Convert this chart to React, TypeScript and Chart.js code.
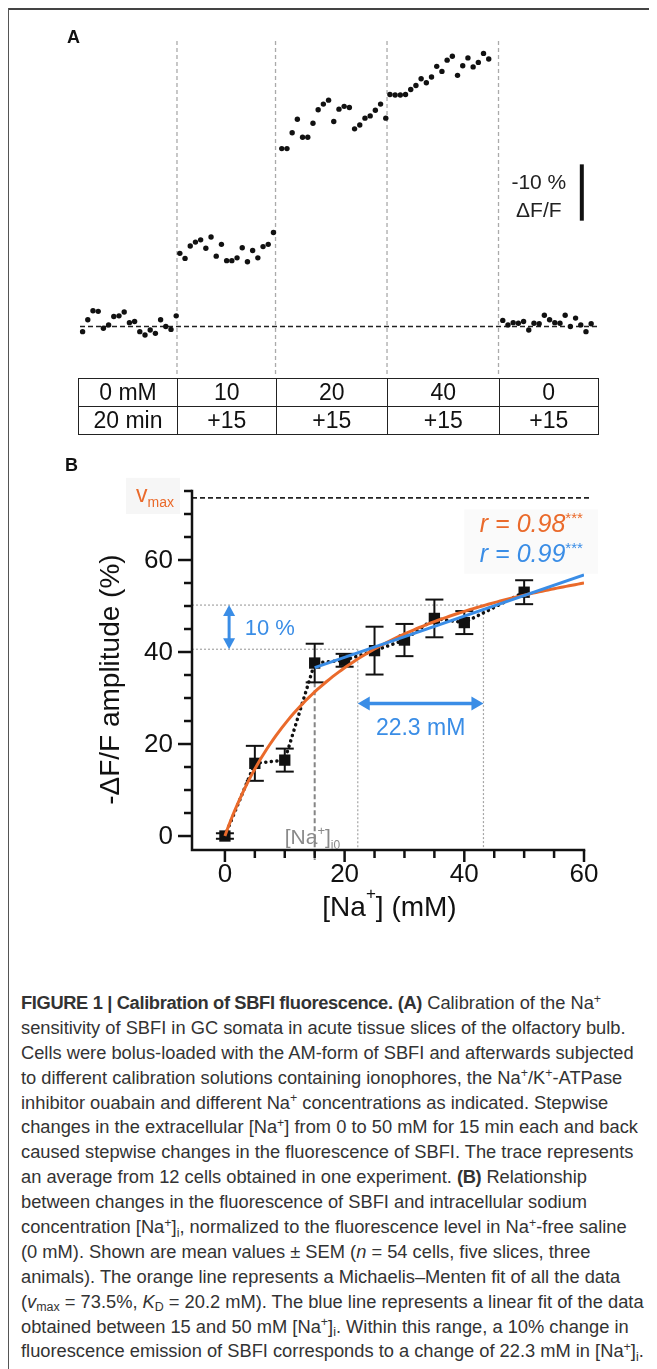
import React, { useEffect, useRef } from "react";
import { Chart, registerables } from "chart.js";

Chart.register(...registerables);

// ---------------- Panel A : averaged SBFI trace (-ΔF/F, %) ----------------
const traceSeg0mM = [-0.9, 1.2, 2.8, 2.7, -0.3, 0.3, 1.8, 1.9, 2.6, 0.7, 0.9, -0.9, -1.5, -0.6, -1.2, 1.2, 0.0, -0.5, 1.9];
const traceSeg10mM = [13.0, 12.1, 14.3, 15.0, 15.4, 13.9, 15.9, 12.5, 14.6, 11.7, 11.7, 12.2, 14.0, 11.5, 13.5, 12.2, 14.2, 14.6, 16.7];
const traceSeg20mM = [31.6, 31.6, 34.4, 36.8, 33.6, 33.6, 36.1, 38.5, 39.5, 40.2, 36.4, 38.6, 39.1, 38.9, 35.1, 35.8, 37.0, 37.4, 38.4, 39.5, 37.0];
const traceSeg40mM = [41.2, 41.1, 41.1, 41.2, 42.1, 42.8, 44.0, 43.3, 44.3, 46.2, 45.3, 47.3, 48.0, 44.6, 46.3, 47.7, 46.1, 46.9, 48.5, 47.5];
const traceSegWash = [1.1, 0.3, 0.7, 0.6, 0.9, -0.6, 0.6, 0.5, 2.0, 1.2, 0.7, 0.6, 2.0, 0.0, 1.5, 0.3, -0.9, 0.5];
const traceSegStart = [0.5, 19.2, 38.8, 59.6, 81.3]; // frame number of first sample of each step
const solutionChanges = [18.65, 37.6, 59.04, 80.48]; // frame number of each solution exchange
const traceFrames = 99.42;
const tableConcentrations = ["0 mM", "10", "20", "40", "0"];
const tableDurations = ["20 min", "+15", "+15", "+15", "+15"];
const scaleBarPct = 10;

// ---------------- Panel B : calibration curve ----------------
const naConc = [0, 5, 10, 15, 20, 25, 30, 35, 40, 50];
const ampMean = [0, 15.8, 16.5, 37.6, 38.2, 40.3, 42.6, 47.3, 46.4, 53.0];
const ampSem = [0.6, 3.8, 2.5, 4.2, 1.4, 5.2, 3.5, 4.1, 2.5, 2.6];
const mmVmax = 73.5;
const mmKd = 20.2;
const linRange = [15, 60];
const linSlope = 10 / 22.3;
const linAt15 = 36.6;
const naI0 = 15;
const guideNa = [22.2, 43.2];
const guideAmp = [40.6, 50.2];
const ampTicks = [0, 20, 40, 60];
const naTicks = [0, 20, 40, 60];
const ampAxisMax = 75;
const minorStep = 5;
const rMM = "0.98";
const rLin = "0.99";
const deltaNaLabel = "22.3 mM";
const deltaAmpLabel = "10 %";

const FONT = '"Liberation Sans", Arial, Helvetica, sans-serif';
const ORANGE = "#EA6A2B";
const BLUE = "#3A8DE6";

type Part = { t: string; size: number; dy?: number; italic?: boolean };

function drawRich(ctx: CanvasRenderingContext2D, parts: Part[], x: number, y: number, align: "left" | "center" | "right") {
  ctx.save();
  ctx.textBaseline = "alphabetic";
  ctx.textAlign = "left";
  const widths = parts.map((p) => {
    ctx.font = `${p.italic ? "italic " : ""}${p.size}px ${FONT}`;
    return ctx.measureText(p.t).width;
  });
  const total = widths.reduce((a, b) => a + b, 0);
  let cx = align === "left" ? x : align === "center" ? x - total / 2 : x - total;
  parts.forEach((p, i) => {
    ctx.font = `${p.italic ? "italic " : ""}${p.size}px ${FONT}`;
    ctx.fillText(p.t, cx, y + (p.dy || 0));
    cx += widths[i];
  });
  ctx.restore();
}

function seg(ctx: CanvasRenderingContext2D, x1: number, y1: number, x2: number, y2: number) {
  ctx.beginPath();
  ctx.moveTo(x1, y1);
  ctx.lineTo(x2, y2);
  ctx.stroke();
}

function PanelA() {
  const ref = useRef<HTMLCanvasElement>(null);
  useEffect(() => {
    const segs = [traceSeg0mM, traceSeg10mM, traceSeg20mM, traceSeg40mM, traceSegWash];
    const pts = segs.flatMap((vals, s) => vals.map((v, i) => ({ x: traceSegStart[s] + i, y: v })));
    const decor = {
      id: "decorA",
      beforeDatasetsDraw(chart: any) {
        const { ctx, chartArea: ca, scales } = chart;
        const x = scales.x;
        const y = scales.y;
        ctx.save();
        ctx.strokeStyle = "#aaaaaa";
        ctx.lineWidth = 1.3;
        ctx.setLineDash([4, 3]);
        solutionChanges.forEach((t) => {
          const px = x.getPixelForValue(t);
          seg(ctx, px, ca.top, px, ca.bottom);
        });
        ctx.strokeStyle = "#222";
        ctx.lineWidth = 1.6;
        ctx.setLineDash([5, 3]);
        const y0 = y.getPixelForValue(0);
        seg(ctx, x.getPixelForValue(0), y0, x.getPixelForValue(traceFrames), y0);
        // scale bar
        ctx.setLineDash([]);
        ctx.lineWidth = 4;
        ctx.strokeStyle = "#111";
        const bx = x.getPixelForValue(96.5);
        seg(ctx, bx, y.getPixelForValue(18.8), bx, y.getPixelForValue(18.8 + scaleBarPct));
        ctx.fillStyle = "#222";
        ctx.font = `21px ${FONT}`;
        ctx.textAlign = "center";
        ctx.textBaseline = "middle";
        const ym = y.getPixelForValue(18.8 + scaleBarPct / 2);
        ctx.fillText(`-${scaleBarPct} %`, bx - 43, ym - 9);
        ctx.fillText("ΔF/F", bx - 43, ym + 19);
        ctx.restore();
      },
    };
    const chart = new Chart(ref.current as HTMLCanvasElement, {
      type: "scatter",
      data: {
        datasets: [
          {
            data: pts,
            pointRadius: 2.7,
            pointBackgroundColor: "#111",
            pointBorderWidth: 0,
            clip: false as any,
          } as any,
        ],
      },
      options: {
        animation: false,
        responsive: false,
        events: [],
        layout: { padding: { left: 72, right: 60, top: 33, bottom: 0 } },
        plugins: { legend: { display: false }, tooltip: { enabled: false } },
        scales: {
          x: { type: "linear", display: false, min: 0, max: traceFrames },
          y: { type: "linear", display: false, min: -8.42, max: 50.7 },
        },
      },
      plugins: [decor],
    });
    return () => chart.destroy();
  }, []);
  return <canvas ref={ref} width={649} height={370} style={{ position: "absolute", left: 0, top: 0 }} />;
}

function PanelB() {
  const ref = useRef<HTMLCanvasElement>(null);
  useEffect(() => {
    const means = naConc.map((c, i) => ({ x: c, y: ampMean[i] }));
    const mmCurve: { x: number; y: number }[] = [];
    for (let c = 0; c <= 60; c += 0.5) mmCurve.push({ x: c, y: (mmVmax * c) / (mmKd + c) });
    const linLine = linRange.map((c) => ({ x: c, y: linAt15 + linSlope * (c - 15) }));

    const decor = {
      id: "decorB",
      beforeDatasetsDraw(chart: any) {
        const { ctx, chartArea: ca, scales } = chart;
        const x = scales.x;
        const y = scales.y;
        ctx.save();
        // faint backgrounds of labels
        ctx.fillStyle = "#f6f6f6";
        ctx.fillRect(ca.left - 66, y.getPixelForValue(mmVmax) - 20, 54, 36);
        ctx.fillStyle = "#fafafa";
        ctx.fillRect(x.getPixelForValue(40), y.getPixelForValue(71), ca.right + 14 - x.getPixelForValue(40), y.getPixelForValue(57) - y.getPixelForValue(71));
        // vmax line
        ctx.strokeStyle = "#222";
        ctx.lineWidth = 1.6;
        ctx.setLineDash([5, 3]);
        const yv = y.getPixelForValue(mmVmax);
        seg(ctx, ca.left, yv, ca.right + 8, yv);
        // guides
        ctx.strokeStyle = "#a5a5a5";
        ctx.lineWidth = 1.2;
        ctx.setLineDash([2, 2]);
        for (let i = 0; i < 2; i++) {
          const gx = x.getPixelForValue(guideNa[i]);
          const gy = y.getPixelForValue(guideAmp[i]);
          seg(ctx, ca.left, gy, gx, gy);
          seg(ctx, gx, gy, gx, ca.bottom);
        }
        // [Na+]i0 marker line
        ctx.strokeStyle = "#858585";
        ctx.lineWidth = 2;
        ctx.setLineDash([5, 3]);
        const xi = x.getPixelForValue(naI0);
        seg(ctx, xi, y.getPixelForValue(ampMean[3] - ampSem[3]), xi, ca.bottom + 10);
        // error bars
        ctx.setLineDash([]);
        ctx.strokeStyle = "#111";
        ctx.lineWidth = 2;
        naConc.forEach((c, i) => {
          const px = x.getPixelForValue(c);
          const t = y.getPixelForValue(ampMean[i] + ampSem[i]);
          const b = y.getPixelForValue(ampMean[i] - ampSem[i]);
          seg(ctx, px, t, px, b);
          seg(ctx, px - 9, t, px + 9, t);
          seg(ctx, px - 9, b, px + 9, b);
        });
        ctx.restore();
      },
      afterDraw(chart: any) {
        const { ctx, chartArea: ca, scales } = chart;
        const x = scales.x;
        const y = scales.y;
        ctx.save();
        // axes
        ctx.strokeStyle = "#111";
        ctx.lineWidth = 2.5;
        ctx.lineCap = "square";
        const yTop = y.getPixelForValue(ampAxisMax);
        const xRight = x.getPixelForValue(60);
        ctx.beginPath();
        ctx.moveTo(ca.left, yTop);
        ctx.lineTo(ca.left, ca.bottom);
        ctx.lineTo(xRight, ca.bottom);
        ctx.stroke();
        ctx.lineCap = "butt";
        for (let v = 0; v <= ampAxisMax; v += minorStep) {
          const py = y.getPixelForValue(v);
          const len = ampTicks.includes(v) ? 14 : 8;
          seg(ctx, ca.left - len, py, ca.left, py);
        }
        for (let v = 0; v <= 60; v += minorStep) {
          const px = x.getPixelForValue(v);
          const len = naTicks.includes(v) ? 12 : 8;
          seg(ctx, px, ca.bottom, px, ca.bottom + len);
        }
        ctx.fillStyle = "#111";
        ctx.font = `26px ${FONT}`;
        ctx.textAlign = "right";
        ctx.textBaseline = "middle";
        ampTicks.forEach((v) => ctx.fillText(String(v), ca.left - 19, y.getPixelForValue(v) + 1));
        ctx.textAlign = "center";
        naTicks.forEach((v) => ctx.fillText(String(v), x.getPixelForValue(v), ca.bottom + 25));
        // axis titles
        ctx.save();
        ctx.translate(ca.left - 81, y.getPixelForValue(34));
        ctx.rotate(-Math.PI / 2);
        ctx.font = `28px ${FONT}`;
        ctx.textAlign = "center";
        ctx.textBaseline = "middle";
        ctx.fillText("-ΔF/F amplitude (%)", 0, 0);
        ctx.restore();
        drawRich(
          ctx,
          [
            { t: "[Na", size: 28 },
            { t: "+", size: 17, dy: -17 },
            { t: "] (mM)", size: 28 },
          ],
          x.getPixelForValue(27.5),
          ca.bottom + 66,
          "center"
        );
        // vmax label
        ctx.fillStyle = ORANGE;
        drawRich(ctx, [{ t: "v", size: 23 }, { t: "max", size: 14, dy: 5 }], ca.left - 18, y.getPixelForValue(mmVmax) + 4, "right");
        // r values
        drawRich(ctx, [{ t: `r = ${rMM}`, size: 25, italic: true }, { t: "***", size: 15, dy: -9 }], x.getPixelForValue(59.8), y.getPixelForValue(68) + 9, "right");
        ctx.fillStyle = BLUE;
        drawRich(ctx, [{ t: `r = ${rLin}`, size: 25, italic: true }, { t: "***", size: 15, dy: -9 }], x.getPixelForValue(59.8), y.getPixelForValue(61.5) + 9, "right");
        // 10 % arrow
        ctx.strokeStyle = BLUE;
        ctx.fillStyle = BLUE;
        ctx.lineWidth = 3;
        const ax = x.getPixelForValue(0.7);
        const a1 = y.getPixelForValue(guideAmp[1]);
        const a2 = y.getPixelForValue(guideAmp[0]);
        seg(ctx, ax, a1 + 8, ax, a2 - 8);
        ctx.beginPath();
        ctx.moveTo(ax, a1); ctx.lineTo(ax - 6, a1 + 11); ctx.lineTo(ax + 6, a1 + 11); ctx.closePath(); ctx.fill();
        ctx.beginPath();
        ctx.moveTo(ax, a2); ctx.lineTo(ax - 6, a2 - 11); ctx.lineTo(ax + 6, a2 - 11); ctx.closePath(); ctx.fill();
        ctx.font = `22px ${FONT}`;
        ctx.textAlign = "left";
        ctx.textBaseline = "middle";
        ctx.fillText(deltaAmpLabel, x.getPixelForValue(3.3), y.getPixelForValue((guideAmp[0] + guideAmp[1]) / 2) + 2);
        // 22.3 mM arrow
        ctx.lineWidth = 3.5;
        const hy = y.getPixelForValue(28.8);
        const h1 = x.getPixelForValue(guideNa[0]);
        const h2 = x.getPixelForValue(guideNa[1]);
        seg(ctx, h1 + 8, hy, h2 - 8, hy);
        ctx.beginPath();
        ctx.moveTo(h1, hy); ctx.lineTo(h1 + 12, hy - 7); ctx.lineTo(h1 + 12, hy + 7); ctx.closePath(); ctx.fill();
        ctx.beginPath();
        ctx.moveTo(h2, hy); ctx.lineTo(h2 - 12, hy - 7); ctx.lineTo(h2 - 12, hy + 7); ctx.closePath(); ctx.fill();
        ctx.font = `23px ${FONT}`;
        ctx.textAlign = "center";
        ctx.fillText(deltaNaLabel, (h1 + h2) / 2, y.getPixelForValue(23.3));
        // [Na+]i0 label
        ctx.fillStyle = "#8a8a8a";
        drawRich(
          ctx,
          [
            { t: "[Na", size: 21 },
            { t: "+", size: 13, dy: -9 },
            { t: "]", size: 21 },
            { t: "i0", size: 12, dy: 5 },
          ],
          x.getPixelForValue(10),
          y.getPixelForValue(0) + 8,
          "left"
        );
        ctx.restore();
      },
    };

    const chart = new Chart(ref.current as HTMLCanvasElement, {
      type: "scatter",
      data: {
        datasets: [
          { data: linLine, showLine: true, borderColor: BLUE, borderWidth: 3, pointRadius: 0 } as any,
          { data: mmCurve, showLine: true, borderColor: ORANGE, borderWidth: 3, pointRadius: 0 } as any,
          { data: means, showLine: false, pointStyle: "rect", pointRadius: 8, pointBackgroundColor: "#111", pointBorderWidth: 0 } as any,
          {
            data: means,
            showLine: true,
            borderColor: "#111",
            borderWidth: 3.5,
            borderDash: [0.1, 5.5],
            borderCapStyle: "round",
            pointRadius: 0,
          } as any,
        ],
      },
      options: {
        animation: false,
        responsive: false,
        events: [],
        layout: { padding: { left: 184, right: 73, top: 46, bottom: 135 } },
        plugins: { legend: { display: false }, tooltip: { enabled: false } },
        scales: {
          x: { type: "linear", display: false, min: -5.5, max: 60 },
          y: { type: "linear", display: false, min: -3.04, max: 75 },
        },
      },
      plugins: [decor],
    });
    return () => chart.destroy();
  }, []);
  return <canvas ref={ref} width={649} height={540} style={{ position: "absolute", left: 0, top: 437 }} />;
}

const Sup = ({ c }: { c: string }) => (
  <span style={{ fontSize: "0.68em", position: "relative", top: "-0.5em", lineHeight: 0 }}>{c}</span>
);
const Sub = ({ c }: { c: string }) => (
  <span style={{ fontSize: "0.68em", position: "relative", top: "0.3em", lineHeight: 0 }}>{c}</span>
);
const B = ({ c }: { c: string }) => <b style={{ letterSpacing: "-0.35px" }}>{c}</b>;

const captionLines: React.ReactNode[] = [
  <>
    <B c="FIGURE 1 | Calibration of SBFI fluorescence." /> <B c="(A)" /> Calibration of the Na<Sup c="+" />
  </>,
  <>sensitivity of SBFI in GC somata in acute tissue slices of the olfactory bulb.</>,
  <>Cells were bolus-loaded with the AM-form of SBFI and afterwards subjected</>,
  <>
    to different calibration solutions containing ionophores, the Na<Sup c="+" />/K<Sup c="+" />-ATPase
  </>,
  <>
    inhibitor ouabain and different Na<Sup c="+" /> concentrations as indicated. Stepwise
  </>,
  <>
    changes in the extracellular [Na<Sup c="+" />] from 0 to 50 mM for 15 min each and back
  </>,
  <>caused stepwise changes in the fluorescence of SBFI. The trace represents</>,
  <>
    an average from 12 cells obtained in one experiment. <B c="(B)" /> Relationship
  </>,
  <>between changes in the fluorescence of SBFI and intracellular sodium</>,
  <>
    concentration [Na<Sup c="+" />]<Sub c="i" />, normalized to the fluorescence level in Na<Sup c="+" />-free saline
  </>,
  <>
    (0 mM). Shown are mean values ± SEM (<i>n</i> = 54 cells, five slices, three
  </>,
  <>animals). The orange line represents a Michaelis–Menten fit of all the data</>,
  <>
    (<i>v</i>
    <Sub c="max" /> = 73.5%, <i>K</i>
    <Sub c="D" /> = 20.2 mM). The blue line represents a linear fit of the data
  </>,
  <>
    obtained between 15 and 50 mM [Na<Sup c="+" />]<Sub c="i" />. Within this range, a 10% change in
  </>,
  <>
    fluorescence emission of SBFI corresponds to a change of 22.3 mM in [Na<Sup c="+" />]<Sub c="i" />.
  </>,
];

export default function App() {
  const colW = [99, 98.5, 111.5, 111.5, 99.5];
  const cell: React.CSSProperties = {
    border: "1.5px solid #222",
    textAlign: "center",
    padding: 0,
    height: 27,
    lineHeight: "27px",
    fontSize: 23,
    color: "#111",
  };
  return (
    <div style={{ position: "relative", width: 649, height: 1361, background: "#fff", fontFamily: FONT, overflow: "hidden" }}>
      <div style={{ position: "absolute", left: 0, top: 0, width: 649, height: 1.5, background: "#444" }} />
      <div style={{ position: "absolute", left: 0, top: 0, width: 1, height: 1361, background: "#555" }} />
      <PanelA />
      <PanelB />
      <div style={{ position: "absolute", left: 59, top: 19, fontSize: 18, fontWeight: "bold", color: "#111", lineHeight: "20px" }}>A</div>
      <div style={{ position: "absolute", left: 57, top: 447, fontSize: 18, fontWeight: "bold", color: "#111", lineHeight: "20px" }}>B</div>
      <table
        style={{
          position: "absolute",
          left: 70,
          top: 370,
          borderCollapse: "collapse",
          tableLayout: "fixed",
          width: 520,
          fontFamily: FONT,
        }}
      >
        <colgroup>
          {colW.map((w, i) => (
            <col key={i} style={{ width: w }} />
          ))}
        </colgroup>
        <tbody>
          <tr>
            {tableConcentrations.map((t, i) => (
              <td key={i} style={cell}>{t}</td>
            ))}
          </tr>
          <tr>
            {tableDurations.map((t, i) => (
              <td key={i} style={cell}>{t}</td>
            ))}
          </tr>
        </tbody>
      </table>
      <div
        style={{
          position: "absolute",
          left: 13,
          top: 983,
          fontSize: 18.3,
          color: "#333",
          whiteSpace: "nowrap",
        }}
      >
        {captionLines.map((l, i) => (
          <div key={i} style={{ height: 24.9, lineHeight: "24.9px" }}>
            {l}
          </div>
        ))}
      </div>
    </div>
  );
}
